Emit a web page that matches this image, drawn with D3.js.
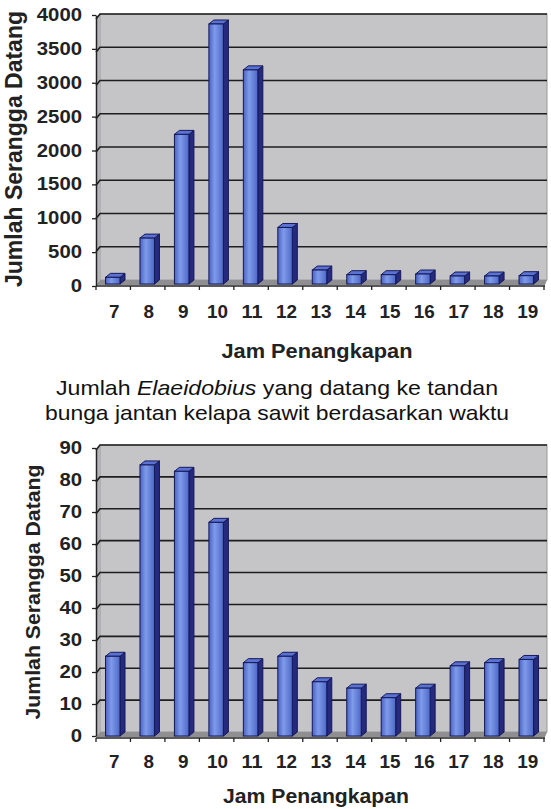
<!DOCTYPE html>
<html>
<head>
<meta charset="utf-8">
<script src="https://cdn.jsdelivr.net/npm/d3@7"></script>
<style>
  html, body { margin: 0; padding: 0; background: #fff; }
  svg { display: block; }
</style>
</head>
<body>
<svg id="chart" width="551" height="809"></svg>
<script>
// hours of capture (x categories)
const hours = ["7", "8", "9", "10", "11", "12", "13", "14", "15", "16", "17", "18", "19"];
// upper chart: number of insects arriving
const countsUpper = [100, 690, 2250, 3910, 3220, 850, 210, 140, 140, 150, 120, 120, 125];
const ticksUpper = [0, 500, 1000, 1500, 2000, 2500, 3000, 3500, 4000];
// lower chart
const countsLower = [25, 85, 83, 67, 23, 25, 17, 15, 12, 15, 22, 23, 24];
const ticksLower = [0, 10, 20, 30, 40, 50, 60, 70, 80, 90];

const yTitle = "Jumlah Serangga Datang";
const xTitle = "Jam Penangkapan";
const captionLines = [
  [{ t: "Jumlah " }, { t: "Elaeidobius", italic: true }, { t: " yang datang ke tandan" }],
  [{ t: "bunga jantan kelapa sawit berdasarkan waktu" }]
];

const svg = d3.select("#chart");
const FONT = "'Liberation Sans', Arial, sans-serif";
const WALL_DX = 4, WALL_DY = 5;   // 3d depth of the walls
const BAR_DX = 5, BAR_DY = 4;     // 3d depth of a bar

const defs = svg.append("defs");
const grad = defs.append("linearGradient").attr("id", "barFront")
  .attr("x1", "0").attr("x2", "1").attr("y1", "0").attr("y2", "0");
grad.append("stop").attr("offset", "0%").attr("stop-color", "#4a63c2");
grad.append("stop").attr("offset", "40%").attr("stop-color", "#7f9bea");
grad.append("stop").attr("offset", "100%").attr("stop-color", "#4d68c6");

const x = d3.scaleBand().domain(hours).range([96, 544]);

drawChart({
  values: countsUpper, ticks: ticksUpper, max: 4000,
  back: [280, 14], labels: [286, 15],
  xLabelY: 318, xTitleY: 358, xTitleLen: 191, xTitleX: 317,
  yTitleX: 22, yTitleY: 149, yTitleLen: 276, yTitleSize: 23
});

drawChart({
  values: countsLower, ticks: ticksLower, max: 90,
  back: [732, 445], labels: [736, 448],
  xLabelY: 768, xTitleY: 803, xTitleLen: 186, xTitleX: 316,
  yTitleX: 40, yTitleY: 592, yTitleLen: 255, yTitleSize: 21
});

// caption between the two charts
captionLines.forEach((parts, i) => {
  const t = svg.append("text")
    .attr("x", 277)
    .attr("y", 395 + i * 25)
    .attr("text-anchor", "middle")
    .attr("font-family", FONT)
    .attr("font-size", 21)
    .attr("fill", "#111")
    .attr("textLength", i === 0 ? 442 : 464)
    .attr("lengthAdjust", "spacingAndGlyphs");
  parts.forEach(p => {
    t.append("tspan").text(p.t).attr("font-style", p.italic ? "italic" : "normal");
  });
});

function drawChart(cfg) {
  const yBack = d3.scaleLinear().domain([0, cfg.max]).range(cfg.back);
  const yLab = d3.scaleLinear().domain([0, cfg.max]).range(cfg.labels);
  const left = x.range()[0], right = 547;
  const y0 = yBack(0), yTop = yBack(cfg.max);

  const g = svg.append("g");

  // back wall
  g.append("rect")
    .attr("x", left + WALL_DX).attr("y", yTop)
    .attr("width", right - left - WALL_DX).attr("height", y0 - yTop)
    .attr("fill", "#c5c5c8").attr("stroke", "#9a9a9a").attr("stroke-width", 1);

  // left side wall
  g.append("path")
    .attr("d", `M${left},${yTop + WALL_DY}L${left + WALL_DX},${yTop}L${left + WALL_DX},${y0}L${left},${y0 + WALL_DY}Z`)
    .attr("fill", "#b4b4b8");

  // floor
  g.append("path")
    .attr("d", `M${left},${y0 + WALL_DY}L${left + WALL_DX},${y0}L${right},${y0}L${right - 2},${y0 + WALL_DY}Z`)
    .attr("fill", "#8f8f92");

  // gridlines on the back wall (and side wall)
  g.append("g").selectAll("path")
    .data(cfg.ticks.filter(d => d > 0))
    .join("path")
    .attr("d", d => `M${left},${yBack(d) + WALL_DY}L${left + WALL_DX},${yBack(d)}L${right},${yBack(d)}`)
    .attr("fill", "none")
    .attr("stroke", "#1e1e1e")
    .attr("stroke-width", 1.6);

  // bars (front face, side, top)
  const bw = 14.5, inset = 9.5;
  const bars = g.append("g").selectAll("g")
    .data(cfg.values.map((v, i) => ({ hour: hours[i], value: v })))
    .join("g");

  bars.append("path")
    .attr("d", d => {
      const bx = x(d.hour) + inset + bw;
      const yt = yBack(d.value) + BAR_DY, yb = y0 + BAR_DY;
      return `M${bx},${yt}L${bx + BAR_DX},${yt - BAR_DY}L${bx + BAR_DX},${yb - BAR_DY}L${bx},${yb}Z`;
    })
    .attr("fill", "#252a7c").attr("stroke", "#15185a").attr("stroke-width", 1);

  bars.append("path")
    .attr("d", d => {
      const bx = x(d.hour) + inset;
      const yt = yBack(d.value) + BAR_DY;
      return `M${bx},${yt}L${bx + BAR_DX},${yt - BAR_DY}L${bx + bw + BAR_DX},${yt - BAR_DY}L${bx + bw},${yt}Z`;
    })
    .attr("fill", "#5a72d2").attr("stroke", "#15185a").attr("stroke-width", 1);

  bars.append("rect")
    .attr("x", d => x(d.hour) + inset)
    .attr("y", d => yBack(d.value) + BAR_DY)
    .attr("width", bw)
    .attr("height", d => y0 - yBack(d.value))
    .attr("fill", "url(#barFront)").attr("stroke", "#15185a").attr("stroke-width", 1);

  // y axis
  const yAxis = g.append("g")
    .attr("transform", `translate(${left},0)`)
    .call(d3.axisLeft(yLab).tickValues(cfg.ticks).tickFormat(d3.format("d"))
      .tickSize(4).tickPadding(10).tickSizeOuter(0));
  yAxis.select(".domain").attr("stroke", "#222").attr("stroke-width", 1.5);
  yAxis.selectAll(".tick line").attr("stroke", "#222").attr("stroke-width", 1.3);
  yAxis.selectAll(".tick text")
    .attr("font-family", FONT).attr("font-weight", "bold").attr("font-size", 17.5)
    .attr("fill", "#222")
    .attr("textLength", d => String(d).length * 11.3)
    .attr("lengthAdjust", "spacingAndGlyphs");

  // x axis: baseline, ticks between bands and hour labels
  const yFloor = y0 + WALL_DY + 1;
  g.append("line")
    .attr("x1", left).attr("x2", right - 2)
    .attr("y1", yFloor).attr("y2", yFloor)
    .attr("stroke", "#222").attr("stroke-width", 1.5);
  g.append("g").selectAll("line")
    .data(hours.map(h => x(h) + x.step()).concat([left]))
    .join("line")
    .attr("x1", d => d).attr("x2", d => d)
    .attr("y1", yFloor).attr("y2", yFloor + 4)
    .attr("stroke", "#222").attr("stroke-width", 1.3);
  g.append("g").selectAll("text")
    .data(hours)
    .join("text")
    .attr("x", d => x(d) + x.bandwidth() / 2 + 1)
    .attr("y", cfg.xLabelY)
    .attr("text-anchor", "middle")
    .attr("font-family", FONT).attr("font-weight", "bold").attr("font-size", 18.5)
    .attr("fill", "#222")
    .attr("textLength", d => d.length * 10.5)
    .attr("lengthAdjust", "spacingAndGlyphs")
    .text(d => d);

  // axis titles
  g.append("text")
    .attr("x", cfg.xTitleX).attr("y", cfg.xTitleY)
    .attr("text-anchor", "middle")
    .attr("font-family", FONT).attr("font-weight", "bold").attr("font-size", 20)
    .attr("fill", "#222")
    .attr("textLength", cfg.xTitleLen).attr("lengthAdjust", "spacingAndGlyphs")
    .text(xTitle);

  g.append("text")
    .attr("transform", `translate(${cfg.yTitleX},${cfg.yTitleY}) rotate(-90)`)
    .attr("text-anchor", "middle")
    .attr("font-family", FONT).attr("font-weight", "bold").attr("font-size", cfg.yTitleSize)
    .attr("fill", "#222")
    .attr("textLength", cfg.yTitleLen).attr("lengthAdjust", "spacingAndGlyphs")
    .text(yTitle);
}
</script>
</body>
</html>
